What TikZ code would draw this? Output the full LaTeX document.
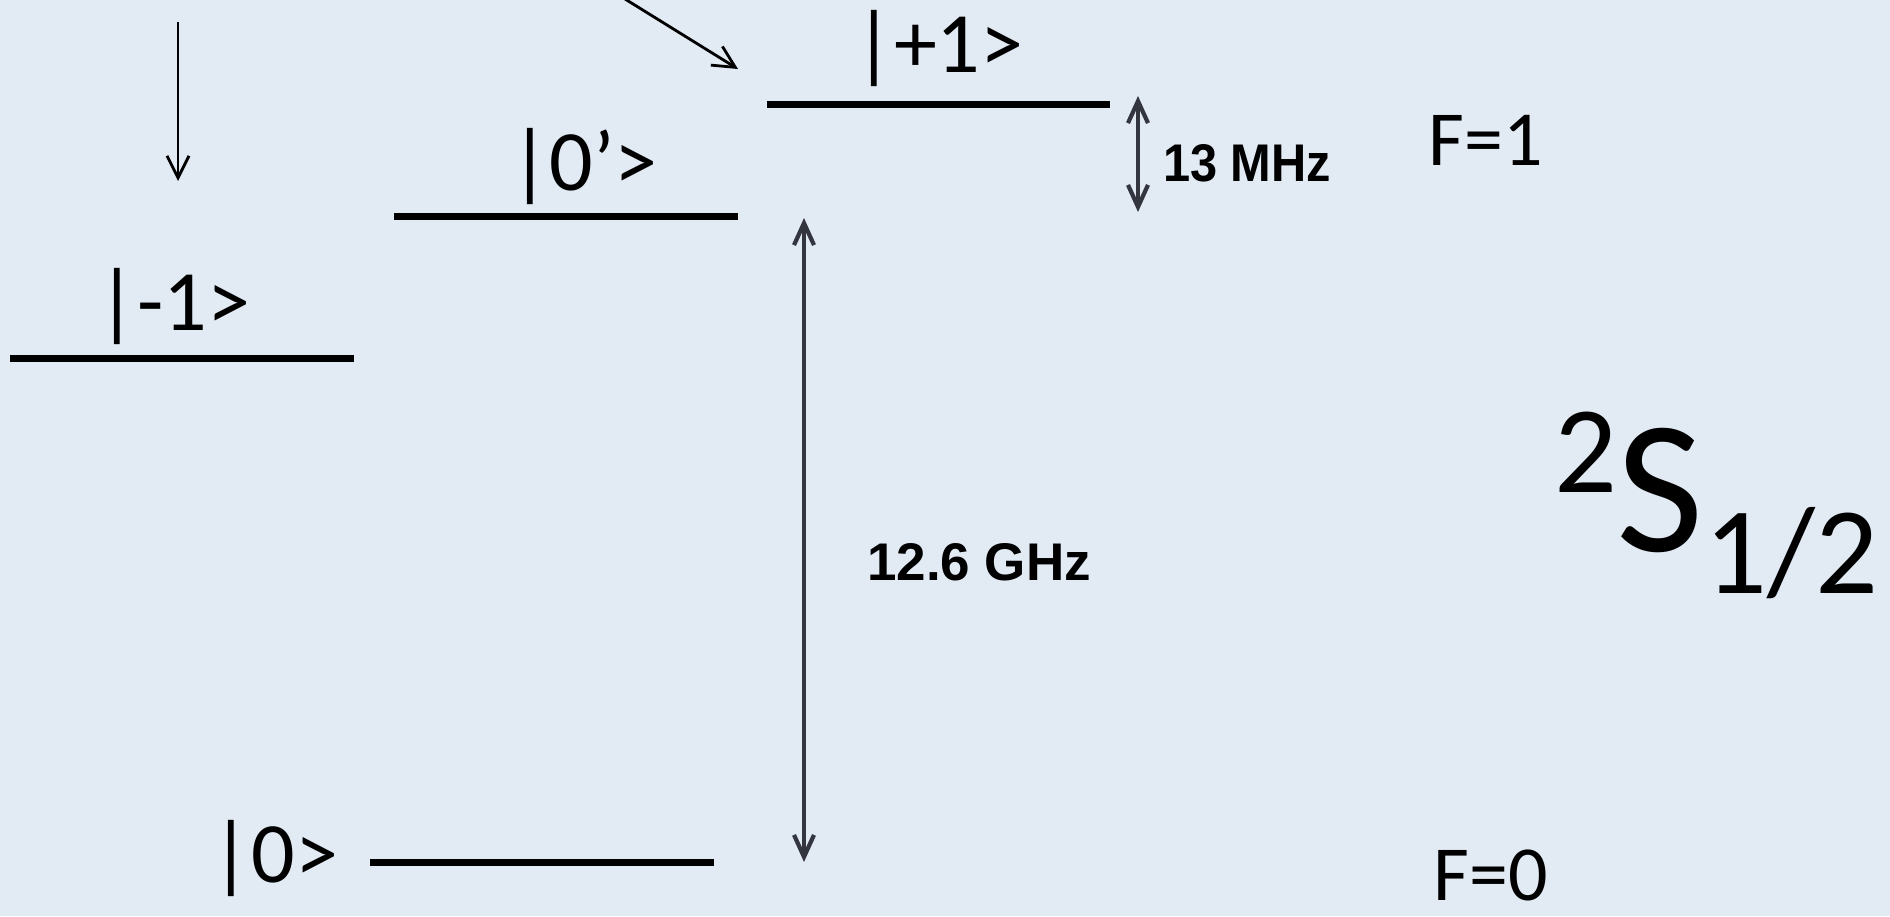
\documentclass[tikz,border=0pt]{standalone}
\usepackage{fontspec}
\setmainfont{Carlito}
\newfontfamily\arialfont{Liberation Sans}
\usetikzlibrary{arrows.meta}
\definecolor{bg}{HTML}{E2EAF4}
\definecolor{arr}{HTML}{33353F}
\begin{document}
\begin{tikzpicture}[x=1pt,y=-1pt,
  level/.style={line width=7pt, black},
  ket/.style={anchor=base, inner sep=0pt, font=\fontsize{86}{90}\selectfont},
  flabel/.style={anchor=base, inner sep=0pt, font=\fontsize{78}{80}\selectfont},
  freq/.style={anchor=base, inner sep=0pt, font=\arialfont\bfseries\fontsize{53}{56}\selectfont},
  dbl/.style={arr, line width=4.2pt, {Straight Barb[length=22pt,width=20pt]}-{Straight Barb[length=22pt,width=20pt]}},
  sgl/.style={black, line width=2.8pt, -{Straight Barb[length=22pt,width=22pt]}}]
\fill[bg] (0,0) rectangle (1890,916);
\useasboundingbox (0,0) rectangle (1890,916);
% level end points
\coordinate (m1L) at (10,358);  \coordinate (m1R) at (354,358);
\coordinate (p0L) at (394,216); \coordinate (p0R) at (738,216);
\coordinate (p1L) at (767,104); \coordinate (p1R) at (1110,104);
\coordinate (z0L) at (370,862); \coordinate (z0R) at (714,862);
\draw[level] (m1L) -- (m1R);
\draw[level] (p0L) -- (p0R);
\draw[level] (p1L) -- (p1R);
\draw[level] (z0L) -- (z0R);
% single arrows
\coordinate (aTop) at (178,22);  \coordinate (aTip) at (178,181);
\draw[sgl] (aTop) -- (aTip);
\coordinate (dStart) at (625,-1); \coordinate (dTip) at (738,69);
\draw[sgl] (dStart) -- (dTip);
% double arrows
\coordinate (gTop) at (804,218); \coordinate (gBot) at (804,862);
\draw[dbl] (gTop) -- (gBot);
\coordinate (mTop) at (1138,96); \coordinate (mBot) at (1138,212);
\draw[dbl] (mTop) -- (mBot);
% labels
\node[ket] (lp1) at (939,72) {|+1>};
\node[ket] (lp0) at (584,190) {|0’>};
\node[ket] (lm1) at (174,330) {|-1>};
\node[ket] (lz0) at (275,882) {|0>};
\node[flabel] (f1) at (1486,165) {F=1};
\node[flabel] (f0) at (1491,900) {F=0};
\node[freq, xscale=0.92] (mhz) at (1247,181) {13 MHz};
\node[freq] (ghz) at (979,580) {12.6 GHz};
\node[anchor=base, inner sep=0pt] (term) at (1716,551)
  {\fontsize{124}{130}\selectfont\raisebox{59pt}{2}\fontsize{190}{200}\selectfont S\fontsize{124}{130}\selectfont\raisebox{-42pt}{1/2}};
\end{tikzpicture}
\end{document}
